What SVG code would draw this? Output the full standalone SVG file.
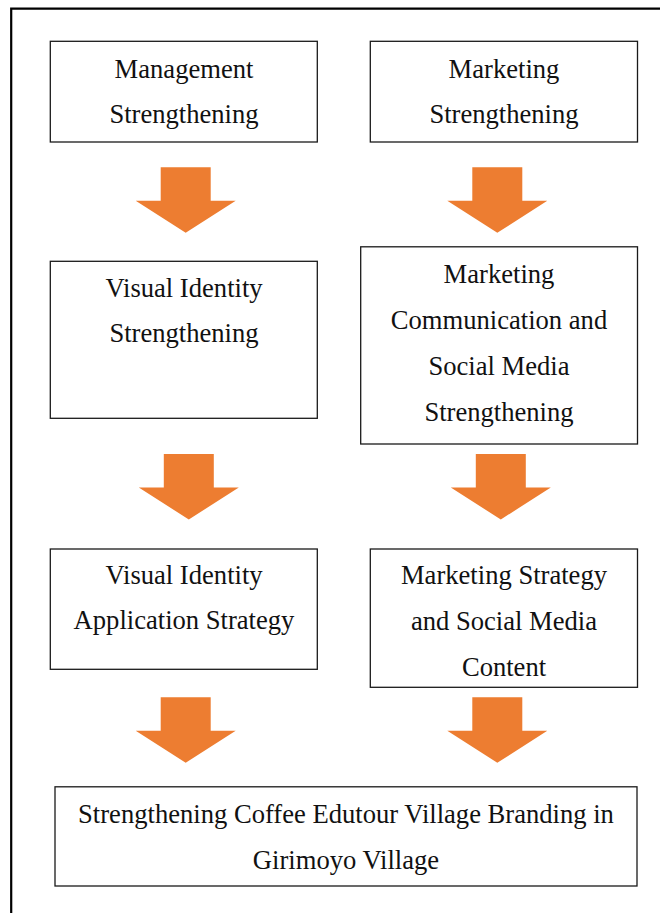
<svg xmlns="http://www.w3.org/2000/svg" width="660" height="913" viewBox="0 0 660 913">
  <style>
    .box { fill: #ffffff; stroke: #1a1a1a; stroke-width: 1.3; }
    .lbl { font-family: "Liberation Serif", "Times New Roman", serif; font-size: 26.6px; fill: #111111; text-anchor: middle; }
    .arrow { fill: #ED7D31; }
    .frame { fill: none; stroke: #000000; stroke-width: 2.2; }
  </style>
  <defs>
    <!-- block arrow pointing down, origin at its top centre -->
    <polygon id="down" points="-25,0 25,0 25,33.5 50,33.5 0,65.5 -50,33.5 -25,33.5"/>
  </defs>

  <rect x="0" y="0" width="660" height="913" fill="#ffffff"/>
  <!-- page frame -->
  <polyline class="frame" points="11.2,913 11.2,8.6 660,8.6"/>

  <g id="connectors">
    <use href="#down" class="arrow" x="185.7" y="167.3"/>
    <use href="#down" class="arrow" x="497.3" y="167.3"/>
    <use href="#down" class="arrow" x="188.8" y="454"/>
    <use href="#down" class="arrow" x="500.8" y="454"/>
    <use href="#down" class="arrow" x="185.7" y="697.3"/>
    <use href="#down" class="arrow" x="497.3" y="697.3"/>
  </g>

  <g id="management">
    <rect class="box" x="50.3" y="41.3" width="267" height="100.7"/>
    <text class="lbl" x="184" y="77.5">Management</text>
    <text class="lbl" x="184" y="123">Strengthening</text>
  </g>

  <g id="marketing">
    <rect class="box" x="370.3" y="41.3" width="267.2" height="100.7"/>
    <text class="lbl" x="504" y="77.5">Marketing</text>
    <text class="lbl" x="504" y="123">Strengthening</text>
  </g>

  <g id="visual-identity">
    <rect class="box" x="50.3" y="261.3" width="267" height="157"/>
    <text class="lbl" x="184" y="296.5">Visual Identity</text>
    <text class="lbl" x="184" y="342">Strengthening</text>
  </g>

  <g id="marketing-communication">
    <rect class="box" x="360.7" y="246.8" width="276.8" height="197.2"/>
    <text class="lbl" x="499" y="282.5">Marketing</text>
    <text class="lbl" x="499" y="328.5">Communication and</text>
    <text class="lbl" x="499" y="374.5">Social Media</text>
    <text class="lbl" x="499" y="420.5">Strengthening</text>
  </g>

  <g id="visual-identity-application">
    <rect class="box" x="50.3" y="549" width="267" height="120.3"/>
    <text class="lbl" x="184" y="583.5">Visual Identity</text>
    <text class="lbl" x="184" y="629">Application Strategy</text>
  </g>

  <g id="marketing-strategy">
    <rect class="box" x="370.3" y="549" width="267.2" height="138.3"/>
    <text class="lbl" x="504" y="584">Marketing Strategy</text>
    <text class="lbl" x="504" y="630">and Social Media</text>
    <text class="lbl" x="504" y="676">Content</text>
  </g>

  <g id="branding">
    <rect class="box" x="55" y="786.8" width="582" height="99.2"/>
    <text class="lbl" x="346" y="822.5">Strengthening Coffee Edutour Village Branding in</text>
    <text class="lbl" x="346" y="868.5">Girimoyo Village</text>
  </g>
</svg>
